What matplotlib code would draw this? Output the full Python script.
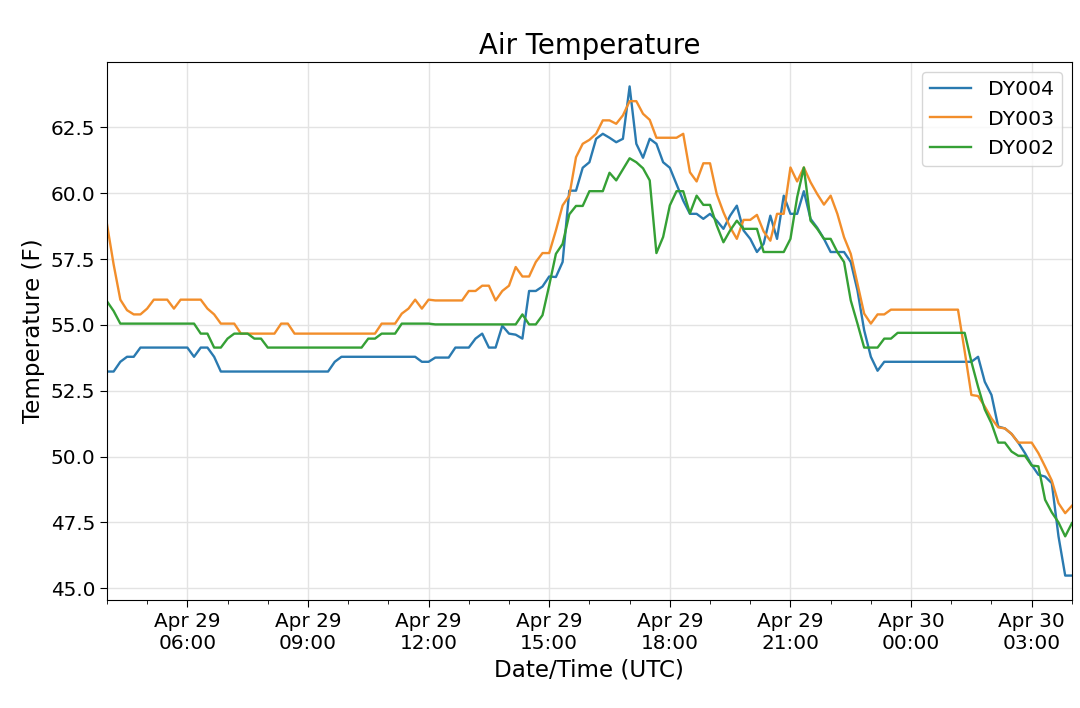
import matplotlib
matplotlib.use("Agg")
import matplotlib.pyplot as plt
import matplotlib.dates as mdates
import pandas as pd

# 10-minute observations, Apr 29 04:00 UTC -> Apr 30 04:00 UTC
start_time = "2019-04-29 04:00"
interval = "10min"

dy004 = [53.23, 53.23, 53.6, 53.79, 53.79, 54.14, 54.14, 54.14, 54.14, 54.14,
         54.14, 54.14, 54.14, 53.79, 54.14, 54.14, 53.79, 53.23, 53.23, 53.23,
         53.23, 53.23, 53.23, 53.23, 53.23, 53.23, 53.23, 53.23, 53.23, 53.23,
         53.23, 53.23, 53.23, 53.23, 53.6, 53.79, 53.79, 53.79, 53.79, 53.79,
         53.79, 53.79, 53.79, 53.79, 53.79, 53.79, 53.79, 53.6, 53.6, 53.76,
         53.76, 53.76, 54.14, 54.14, 54.14, 54.48, 54.67, 54.14, 54.14, 54.97,
         54.67, 54.63, 54.48, 56.29, 56.29, 56.46, 56.84, 56.82, 57.39, 60.1,
         60.1, 60.97, 61.18, 62.07, 62.26, 62.11, 61.94, 62.07, 64.06, 61.88,
         61.35, 62.07, 61.88, 61.18, 60.97, 60.35, 59.72, 59.22, 59.22, 59.03,
         59.22, 58.96, 58.65, 59.15, 59.53, 58.59, 58.27, 57.77, 58.08, 59.15,
         58.27, 59.91, 59.22, 59.22, 60.08, 59.03, 58.69, 58.27, 57.77, 57.77,
         57.77, 57.39, 56.31, 54.8, 53.79, 53.26, 53.6, 53.6, 53.6, 53.6,
         53.6, 53.6, 53.6, 53.6, 53.6, 53.6, 53.6, 53.6, 53.6, 53.6,
         53.79, 52.84, 52.34, 51.14, 51.07, 50.86, 50.53, 50.13, 49.68, 49.31,
         49.24, 48.99, 46.97, 45.48, 45.48]

dy003 = [58.84, 57.3, 55.96, 55.56, 55.4, 55.4, 55.62, 55.96, 55.96, 55.96,
         55.62, 55.96, 55.96, 55.96, 55.96, 55.62, 55.4, 55.05, 55.05, 55.05,
         54.67, 54.67, 54.67, 54.67, 54.67, 54.67, 55.05, 55.05, 54.67, 54.67,
         54.67, 54.67, 54.67, 54.67, 54.67, 54.67, 54.67, 54.67, 54.67, 54.67,
         54.67, 55.05, 55.05, 55.05, 55.43, 55.62, 55.96, 55.62, 55.96, 55.93,
         55.93, 55.93, 55.93, 55.93, 56.29, 56.29, 56.49, 56.49, 55.93, 56.29,
         56.49, 57.2, 56.84, 56.84, 57.39, 57.73, 57.73, 58.59, 59.54, 59.91,
         61.37, 61.88, 62.03, 62.26, 62.77, 62.77, 62.64, 62.96, 63.5, 63.5,
         63.02, 62.79, 62.11, 62.11, 62.11, 62.11, 62.26, 60.8, 60.45, 61.14,
         61.14, 59.97, 59.28, 58.71, 58.27, 58.99, 58.99, 59.18, 58.55, 58.2,
         59.22, 59.22, 60.98, 60.45, 60.98, 60.42, 59.97, 59.57, 59.91, 59.22,
         58.33, 57.7, 56.57, 55.43, 55.05, 55.4, 55.4, 55.58, 55.58, 55.58,
         55.58, 55.58, 55.58, 55.58, 55.58, 55.58, 55.58, 55.58, 54.0, 52.34,
         52.3, 51.9, 51.45, 51.11, 51.07, 50.86, 50.53, 50.53, 50.53, 50.13,
         49.62, 49.09, 48.23, 47.85, 48.13]

dy002 = [55.9, 55.53, 55.05, 55.05, 55.05, 55.05, 55.05, 55.05, 55.05, 55.05,
         55.05, 55.05, 55.05, 55.05, 54.67, 54.67, 54.14, 54.14, 54.48, 54.67,
         54.67, 54.67, 54.48, 54.48, 54.14, 54.14, 54.14, 54.14, 54.14, 54.14,
         54.14, 54.14, 54.14, 54.14, 54.14, 54.14, 54.14, 54.14, 54.14, 54.48,
         54.48, 54.67, 54.67, 54.67, 55.05, 55.05, 55.05, 55.05, 55.05, 55.02,
         55.02, 55.02, 55.02, 55.02, 55.02, 55.02, 55.02, 55.02, 55.02, 55.02,
         55.02, 55.02, 55.4, 55.02, 55.02, 55.37, 56.5, 57.7, 58.08, 59.2,
         59.52, 59.52, 60.08, 60.08, 60.08, 60.78, 60.49, 60.91, 61.33, 61.18,
         60.95, 60.49, 57.73, 58.34, 59.54, 60.08, 60.08, 59.24, 59.91, 59.56,
         59.56, 58.78, 58.14, 58.59, 58.96, 58.65, 58.65, 58.65, 57.77, 57.77,
         57.77, 57.77, 58.27, 59.85, 60.98, 58.96, 58.65, 58.27, 58.27, 57.77,
         57.39, 55.93, 55.05, 54.14, 54.14, 54.14, 54.48, 54.48, 54.7, 54.7,
         54.7, 54.7, 54.7, 54.7, 54.7, 54.7, 54.7, 54.7, 54.7, 53.6,
         52.65, 51.79, 51.26, 50.53, 50.53, 50.19, 50.03, 50.03, 49.66, 49.63,
         48.36, 47.88, 47.5, 46.97, 47.47]

series_names = ["DY004", "DY003", "DY002"]
series_colors = ["#2a7ab0", "#f28e2b", "#35a035"]

times = pd.date_range(start_time, periods=len(dy004), freq=interval)

fig = plt.figure(figsize=(10.8, 7.08), dpi=100)
ax = fig.add_axes([0.099, 0.1525, 0.8935, 0.76])

for vals, name, col in zip([dy004, dy003, dy002], series_names, series_colors):
    ax.plot(times, vals, color=col, linewidth=1.7, label=name)

ax.set_xlim(times[0], times[-1])
ax.xaxis.set_major_locator(mdates.HourLocator(byhour=range(0, 24, 3)))
ax.xaxis.set_minor_locator(mdates.HourLocator())
ax.xaxis.set_major_formatter(mdates.DateFormatter("%b %d\n%H:%M"))
ax.set_yticks([45.0, 47.5, 50.0, 52.5, 55.0, 57.5, 60.0, 62.5])
ax.yaxis.set_major_formatter(matplotlib.ticker.FormatStrFormatter("%.1f"))

ax.tick_params(axis="both", which="major", labelsize=14.4, length=5)
ax.tick_params(axis="x", which="minor", length=3)
ax.grid(True, which="major", color="#e3e3e3", linewidth=1.0)
ax.set_axisbelow(True)

ax.set_xlabel("Date/Time (UTC)", fontsize=16.6)
ax.set_ylabel("Temperature (F)", fontsize=16.6)
ax.set_title("Air Temperature", fontsize=19.8)
ax.legend(loc="upper right", fontsize=14.7)

fig.savefig("out.png", dpi=100)
